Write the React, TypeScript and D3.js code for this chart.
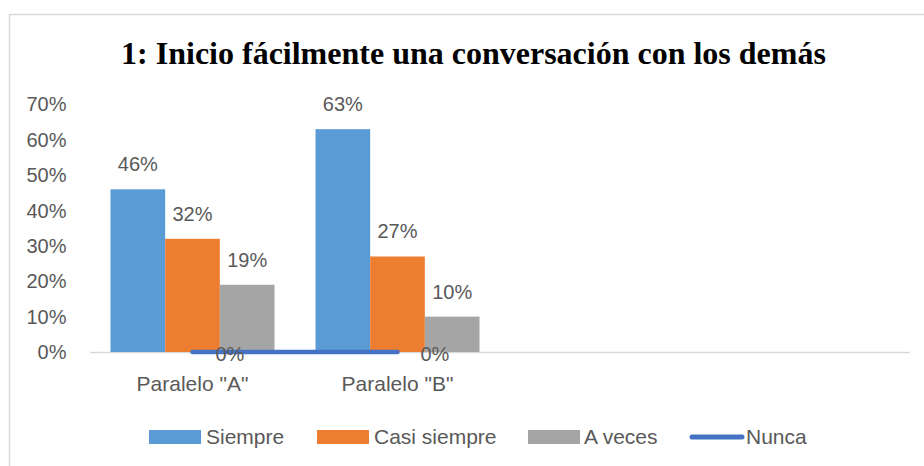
import React from "react";
import * as d3 from "d3";

const categories = ['Paralelo "A"', 'Paralelo "B"', "", ""];
const barSeries = ["Siempre", "Casi siempre", "A veces"];
const siempre = [0.46, 0.63];
const casiSiempre = [0.32, 0.27];
const aVeces = [0.19, 0.1];
const nunca = [0, 0];
const yTicks = [0, 0.1, 0.2, 0.3, 0.4, 0.5, 0.6, 0.7];
const colors = ["#5B9BD5", "#ED7D31", "#A5A5A5"];
const lineColor = "#4472C4";
const title = "1: Inicio fácilmente una conversación con los demás";

const W = 924;
const H = 466;
const FONT = "'Liberation Sans', Arial, sans-serif";
const TXT = "#595959";

export default function App() {
  const x = d3.scaleBand<string>().domain(categories.map((c, i) => String(i))).range([90, 910]).padding(0);
  const bw = x.bandwidth();
  const xs = d3.scaleBand<string>().domain(barSeries).range([bw * 0.1, bw * 0.9]).padding(0);
  const y = d3.scaleLinear().domain([0, 0.7]).range([352, 104.4]);
  const fmt = d3.format(".0%");
  const seriesVals = [siempre, casiSiempre, aVeces];

  const line = d3
    .line<number>()
    .x((_, i) => (x(String(i)) as number) + bw / 2)
    .y((d) => y(d));

  const legendItems = [
    { label: "Siempre", type: "bar", color: colors[0], x: 149, tx: 206 },
    { label: "Casi siempre", type: "bar", color: colors[1], x: 317, tx: 374 },
    { label: "A veces", type: "bar", color: colors[2], x: 528, tx: 584 },
    { label: "Nunca", type: "line", color: lineColor, x: 690, tx: 746 },
  ];

  return (
    <svg
      width={W}
      height={H}
      style={{ position: "absolute", left: 0, top: 0, display: "block", background: "#fff" }}
    >
      <rect x={0} y={0} width={W} height={H} fill="#fff" />
      <rect x={9.5} y={14.5} width={940} height={480} fill="#fff" stroke="#D9D9D9" strokeWidth={1.5} />
      <text
        x={473.5}
        y={63.5}
        textAnchor="middle"
        fontFamily="'Liberation Serif', 'Times New Roman', serif"
        fontWeight="bold"
        fontSize={32}
        fill="#000"
      >
        {title}
      </text>
      {yTicks.map((t) => (
        <text
          key={t}
          x={66.5}
          y={y(t)}
          dy="0.35em"
          textAnchor="end"
          fontFamily={FONT}
          fontSize={20}
          fill={TXT}
        >
          {fmt(t)}
        </text>
      ))}
      <line x1={90} x2={910} y1={352.5} y2={352.5} stroke="#D9D9D9" strokeWidth={1.5} />
      {seriesVals.map((vals, si) =>
        vals.map((v, ci) => {
          const bx = (x(String(ci)) as number) + (xs(barSeries[si]) as number);
          return (
            <rect
              key={`${si}-${ci}`}
              x={bx}
              y={y(v)}
              width={xs.bandwidth()}
              height={y(0) - y(v)}
              fill={colors[si]}
            />
          );
        })
      )}
      {seriesVals.map((vals, si) =>
        vals.map((v, ci) => {
          const bx = (x(String(ci)) as number) + (xs(barSeries[si]) as number) + xs.bandwidth() / 2;
          return (
            <text
              key={`l${si}-${ci}`}
              x={bx}
              y={y(v) - 18}
              textAnchor="middle"
              fontFamily={FONT}
              fontSize={20}
              fill={TXT}
            >
              {fmt(v)}
            </text>
          );
        })
      )}
      <path d={line(nunca) || ""} fill="none" stroke={lineColor} strokeWidth={4.5} strokeLinecap="round" />
      {nunca.map((v, i) => (
        <text
          key={`n${i}`}
          x={(x(String(i)) as number) + bw / 2 + 23}
          y={y(v) + 8.5}
          fontFamily={FONT}
          fontSize={20}
          fill={TXT}
        >
          {fmt(v)}
        </text>
      ))}
      {categories.map((c, i) =>
        c ? (
          <text
            key={`c${i}`}
            x={(x(String(i)) as number) + bw / 2}
            y={391}
            textAnchor="middle"
            fontFamily={FONT}
            fontSize={21}
            fill={TXT}
          >
            {c}
          </text>
        ) : null
      )}
      {legendItems.map((it) => (
        <g key={it.label}>
          {it.type === "bar" ? (
            <rect x={it.x} y={430} width={52} height={14} fill={it.color} />
          ) : (
            <line x1={it.x + 2} x2={it.x + 52} y1={437} y2={437} stroke={it.color} strokeWidth={5} strokeLinecap="round" />
          )}
          <text x={it.tx} y={444} fontFamily={FONT} fontSize={21} fill={TXT}>
            {it.label}
          </text>
        </g>
      ))}
    </svg>
  );
}
